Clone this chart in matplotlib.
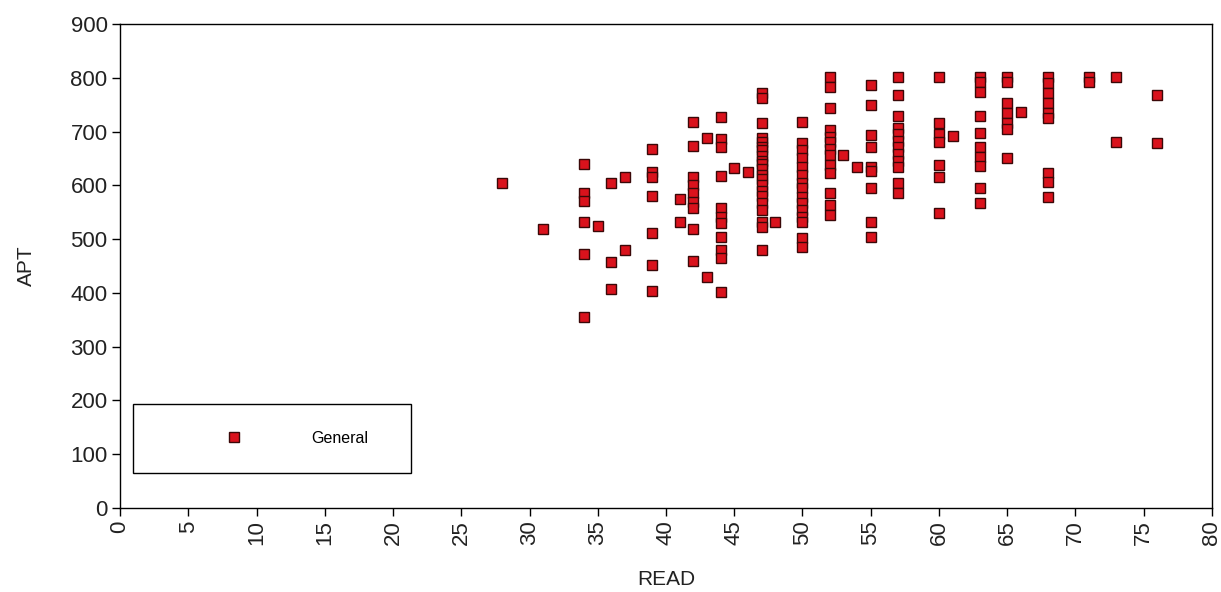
import matplotlib
matplotlib.use("Agg")
import matplotlib.pyplot as plt

plt.rcParams['font.family'] = ['Liberation Sans', 'DejaVu Sans']

# ---------- Data (READ score -> list of APT scores) ----------
read_vals = [28, 31, 34, 35, 36, 37, 39, 41, 42, 43, 44, 45, 46, 47, 48, 50,
             52, 53, 54, 55, 57, 60, 61, 63, 65, 66, 68, 71, 73, 76]

apt_groups = [
    [604],
    [519],
    [640, 586, 570, 532, 472, 355],
    [524],
    [604, 457, 407],
    [615, 480],
    [667, 625, 615, 580, 511, 452, 403],
    [575, 532],
    [718, 673, 615, 600, 586, 569, 558, 519, 459],
    [688, 430],
    [727, 686, 671, 617, 558, 541, 530, 504, 480, 465, 402],
    [632],
    [625],
    [772, 762, 716, 688, 680, 672, 665, 655, 645, 640, 630, 620, 612,
     600, 590, 580, 568, 555, 532, 523, 480],
    [532],
    [718, 679, 666, 651, 634, 619, 604, 595, 578, 567, 554, 541, 532,
     502, 486],
    [801, 783, 744, 703, 690, 680, 668, 656, 638, 623, 586, 563, 545],
    [656],
    [634],
    [786, 749, 693, 671, 634, 627, 595, 532, 504],
    [801, 768, 729, 707, 695, 683, 671, 659, 646, 634, 604, 586],
    [801, 716, 695, 681, 638, 616, 549],
    [692],
    [801, 792, 774, 729, 698, 671, 653, 636, 595, 567],
    [801, 792, 753, 735, 716, 705, 651],
    [736],
    [801, 790, 772, 753, 735, 725, 623, 606, 578],
    [801, 792],
    [801, 681],
    [768, 679],
]

x_ticks = list(range(0, 81, 5))
y_ticks = list(range(0, 901, 100))

# ---------- Plot ----------
xs = []
ys = []
for r, group in zip(read_vals, apt_groups):
    for a in group:
        xs.append(r)
        ys.append(a)

fig = plt.figure(figsize=(12.21, 5.92), dpi=100)
ax = fig.add_axes([0.0983, 0.1419, 0.8943, 0.8176])

ax.plot(xs, ys, linestyle='none', marker='s', markersize=7.8,
        markerfacecolor='#da121c', markeredgecolor='#3a0808',
        markeredgewidth=1.0, label='General')

ax.set_xlim(0, 80)
ax.set_ylim(0, 900)
ax.set_xticks(x_ticks)
ax.set_yticks(y_ticks)
ax.set_xticklabels([str(t) for t in x_ticks], rotation=90)

ax.tick_params(direction='out', length=6, width=1, pad=3,
               labelsize=16, colors='black', labelcolor='#222222')
for sp in ax.spines.values():
    sp.set_linewidth(1.0)

ax.set_xlabel("READ", fontsize=15, labelpad=18, color='#222222')
ax.set_ylabel("APT", fontsize=15, labelpad=25, color='#222222')

leg = ax.legend(loc='lower left', bbox_to_anchor=(0.0119, 0.0723, 0.2546, 0.153),
                mode='expand', borderaxespad=0, fontsize=11.5,
                handlelength=9.3, handletextpad=0.15, borderpad=1.7,
                fancybox=False, framealpha=1, edgecolor='black')
leg.get_frame().set_linewidth(1.0)

fig.savefig("out.png", dpi=100)
